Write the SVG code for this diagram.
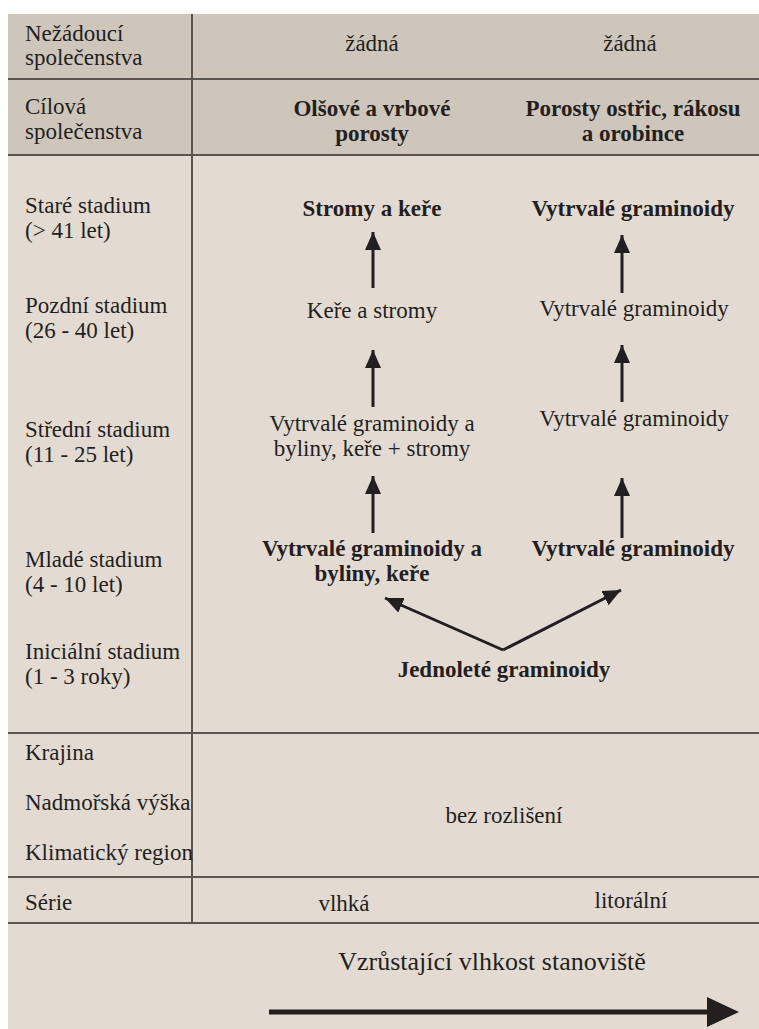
<svg xmlns="http://www.w3.org/2000/svg" width="759" height="1029" viewBox="0 0 759 1029" font-family="'Liberation Serif', 'DejaVu Serif', serif">
<defs>
<style>
text{font-family:'Liberation Serif','DejaVu Serif',serif;font-size:23px;fill:#231f20}
.b{font-weight:bold}
.c{text-anchor:middle}
.grid{stroke:#5b5550;stroke-width:2;fill:none}
.arr{stroke:#231f20;stroke-width:3;fill:none}
</style>
<marker id="ah" markerUnits="userSpaceOnUse" markerWidth="20" markerHeight="16" viewBox="0 0 20 16" refX="18" refY="8" orient="auto">
<path d="M0,0 L18,8 L0,16 Z" fill="#231f20"/>
</marker>
</defs>
<rect x="0" y="0" width="759" height="1029" fill="#ffffff"/>
<rect x="8" y="14" width="751" height="1015" fill="#e3dbd2"/>
<rect x="8" y="14" width="751" height="141" fill="#cfc6bb"/>
<g id="grid">
<line class="grid" x1="192" y1="14" x2="192" y2="923"/>
<line class="grid" x1="8" y1="79" x2="759" y2="79"/>
<line class="grid" x1="8" y1="155" x2="759" y2="155"/>
<line class="grid" x1="8" y1="733" x2="759" y2="733"/>
<line class="grid" x1="8" y1="877" x2="759" y2="877"/>
<line class="grid" x1="8" y1="923" x2="759" y2="923"/>
</g>
<g id="row-labels">
<text x="25" y="41">Nežádoucí</text>
<text x="25" y="65">společenstva</text>
<text x="25" y="114">Cílová</text>
<text x="25" y="139">společenstva</text>
<text x="25" y="213">Staré stadium</text>
<text x="25" y="238">(&gt; 41 let)</text>
<text x="25" y="313">Pozdní stadium</text>
<text x="25" y="338">(26 - 40 let)</text>
<text x="25" y="437">Střední stadium</text>
<text x="25" y="462">(11 - 25 let)</text>
<text x="25" y="567">Mladé stadium</text>
<text x="25" y="592">(4 - 10 let)</text>
<text x="25" y="659">Iniciální stadium</text>
<text x="25" y="684">(1 - 3 roky)</text>
<text x="25" y="760">Krajina</text>
<text x="25" y="810">Nadmořská výška</text>
<text x="25" y="860">Klimatický region</text>
<text x="25" y="910">Série</text>
</g>
<g id="n-zadna1"><text class="c" x="372" y="51">žádná</text></g>
<g id="n-zadna2"><text class="c" x="630" y="51">žádná</text></g>
<g id="n-olsove"><text class="b c" x="372" y="116">Olšové a vrbové</text><text class="b c" x="372" y="141">porosty</text></g>
<g id="n-porosty"><text class="b c" x="633" y="116">Porosty ostřic, rákosu</text><text class="b c" x="633" y="141">a orobince</text></g>
<g id="n-stromy"><text class="b c" x="372" y="216">Stromy a keře</text></g>
<g id="n-kere"><text class="c" x="372" y="318">Keře a stromy</text></g>
<g id="n-vgbks"><text class="c" x="372" y="431">Vytrvalé graminoidy a</text><text class="c" x="372" y="456">byliny, keře + stromy</text></g>
<g id="n-vgbk"><text class="b c" x="372" y="556">Vytrvalé graminoidy a</text><text class="b c" x="372" y="581">byliny, keře</text></g>
<g id="n-vg-old"><text class="b c" x="633" y="216">Vytrvalé graminoidy</text></g>
<g id="n-vg-late"><text class="c" x="634" y="316">Vytrvalé graminoidy</text></g>
<g id="n-vg-mid"><text class="c" x="634" y="426">Vytrvalé graminoidy</text></g>
<g id="n-vg-young"><text class="b c" x="633" y="556">Vytrvalé graminoidy</text></g>
<g id="n-jednolete"><text class="b c" x="504" y="677">Jednoleté graminoidy</text></g>
<g id="n-bez"><text class="c" x="504" y="823">bez rozlišení</text></g>
<g id="n-vlhka"><text class="c" x="344" y="911">vlhká</text></g>
<g id="n-litoralni"><text class="c" x="631" y="908">litorální</text></g>
<g id="n-gradient"><text class="c" x="492" y="970" style="font-size:26px">Vzrůstající vlhkost stanoviště</text></g>
<g id="connectors">
<line class="arr" x1="373" y1="288" x2="373" y2="232" marker-end="url(#ah)"/>
<line class="arr" x1="373" y1="407" x2="373" y2="350" marker-end="url(#ah)"/>
<line class="arr" x1="373" y1="533" x2="373" y2="476" marker-end="url(#ah)"/>
<line class="arr" x1="622" y1="293" x2="622" y2="235" marker-end="url(#ah)"/>
<line class="arr" x1="622" y1="402" x2="622" y2="345" marker-end="url(#ah)"/>
<line class="arr" x1="622" y1="538" x2="622" y2="478" marker-end="url(#ah)"/>
<line class="arr" x1="503" y1="650" x2="385" y2="598" marker-end="url(#ah)"/>
<line class="arr" x1="503" y1="650" x2="621" y2="590" marker-end="url(#ah)"/>
<line x1="269" y1="1012" x2="710" y2="1012" stroke="#231f20" stroke-width="5"/>
<path d="M707,997 L739,1012 L707,1027 Z" fill="#231f20"/>
</g>
</svg>
